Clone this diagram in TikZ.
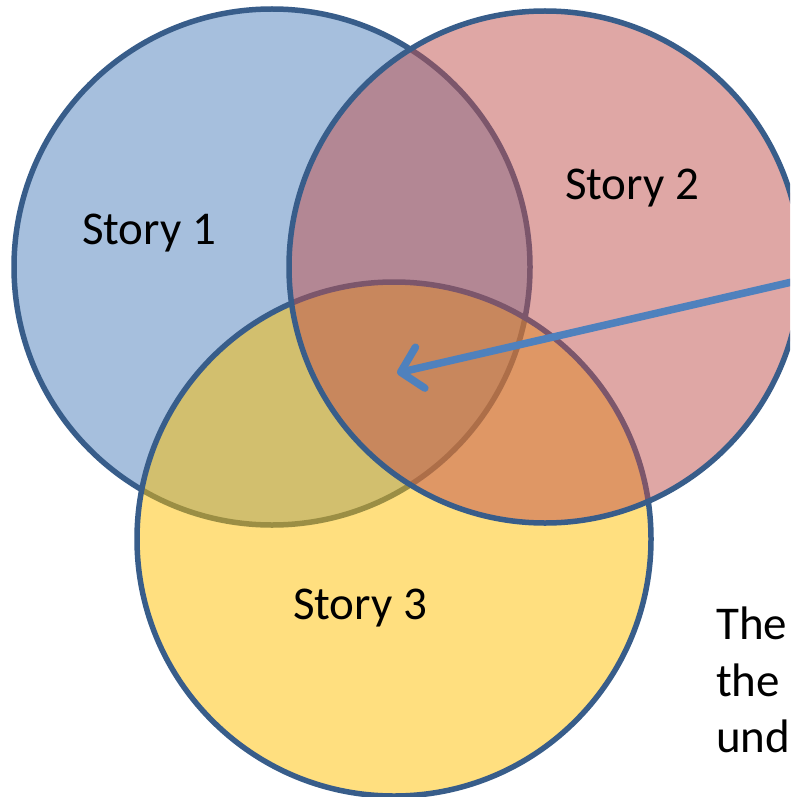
\documentclass[tikz,border=0pt]{standalone}
\usepackage{fontspec}
\setmainfont{Carlito}
\usetikzlibrary{arrows.meta}
\definecolor{cblue}{HTML}{4F81BD}
\definecolor{cred}{HTML}{C0504D}
\definecolor{cyel}{HTML}{FFC000}
\definecolor{cline}{HTML}{385D8A}
\tikzset{
  venn/.style={draw=cline, line width=5.5pt, fill opacity=0.5},
  lbl/.style={font=\fontsize{47}{56}\selectfont, text=black, inner sep=0pt},
  pointer/.style={draw=cblue, line width=7.5pt, line cap=round, line join=round,
    -{Straight Barb[length=20pt, width=42pt, line width=7.5pt, round]}}
}
\begin{document}
\begin{tikzpicture}[x=1pt, y=-1pt]
\useasboundingbox (0,0) rectangle (790,797);
\clip (0,0) rectangle (790,797);
\fill[white] (0,0) rectangle (790,797);
\draw[venn, fill=cblue] (272,267) circle[radius=258];
\draw[venn, fill=cyel] (394,539) circle[radius=257];
\draw[venn, fill=cred] (545,267) circle[radius=256];
\node[lbl] (s1) at (149,233) {Story 1};
\node[lbl] (s2) at (632,188) {Story 2};
\node[lbl] (s3) at (360,608) {Story 3};
\coordinate (tail) at (805,279);
\coordinate (head) at (397,373);
\draw[pointer] (tail) -- (head);
\node[lbl, anchor=base west] (t1) at (716,639) {The};
\node[lbl, anchor=base west] (t2) at (716,696) {the};
\node[lbl, anchor=base west] (t3) at (716,752) {und};
\end{tikzpicture}
\end{document}
